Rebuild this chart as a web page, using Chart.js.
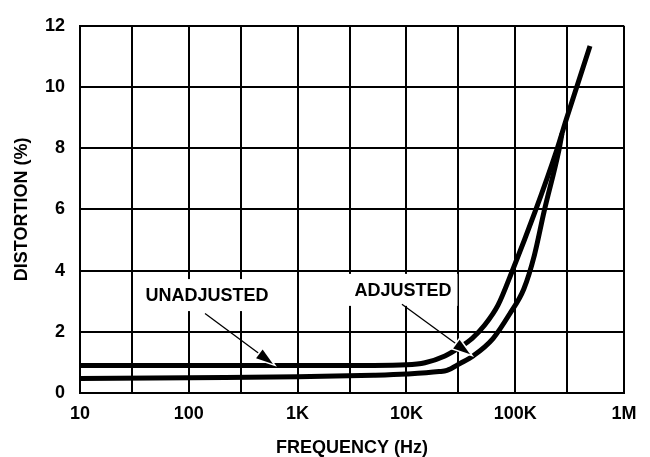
<!DOCTYPE html>
<html>
<head>
<meta charset="utf-8">
<script src="https://cdn.jsdelivr.net/npm/chart.js@4.4.0/dist/chart.umd.min.js"></script>
<style>
  html, body { margin: 0; padding: 0; background: #fff; }
</style>
</head>
<body>
<canvas id="distortion" width="650" height="457"></canvas>
<script>
// frequency (Hz) / distortion (%)
var unadjFreq = [10, 100, 1000, 5000, 10000, 14800, 22600, 29800, 40000, 52700, 69500, 93800, 152000, 242000, 299000, 487000];
var unadjDist = [0.9, 0.9, 0.9, 0.9, 0.92, 0.99, 1.21, 1.46, 1.78, 2.23, 2.87, 3.98, 5.92, 7.96, 9.01, 11.34];

var adjFreq = [10, 100, 1000, 5000, 10000, 20000, 23600, 31000, 41000, 62500, 89500, 120000, 150000, 184000, 253000, 269000];
var adjDist = [0.47, 0.5, 0.53, 0.58, 0.62, 0.7, 0.74, 0.96, 1.21, 1.78, 2.6, 3.4, 4.5, 5.92, 7.96, 8.47];

// grid lines on the frequency axis, labels only on decades
var freqTicks = [10, 30, 100, 300, 1000, 3000, 10000, 30000, 100000, 300000, 1000000];
var freqLabels = ['10', '', '100', '', '1K', '', '10K', '', '100K', '', '1M'];

// callouts, placed in data coordinates
var notes = [
    { text: 'UNADJUSTED', at: [147, 3.2], from: [141, 2.6], to: [594, 0.95] },
    { text: 'ADJUSTED', at: [9300, 3.37], from: [9100, 2.9], to: [38500, 1.27] }
];

var FONT = '"Liberation Sans", Arial, sans-serif';

function toPoints(xs, ys) {
    return xs.map((f, i) => ({ x: f, y: ys[i] }));
}

const notesPlugin = {
    id: 'notes',
    afterDatasetsDraw(chart) {
        const ctx = chart.ctx;
        const xs = chart.scales.x, ys = chart.scales.y;
        ctx.save();
        ctx.font = 'bold 18px ' + FONT;
        ctx.textAlign = 'center';
        ctx.textBaseline = 'middle';
        notes.forEach(n => {
            const tx = xs.getPixelForValue(n.at[0]);
            const ty = ys.getPixelForValue(n.at[1]);
            const w = ctx.measureText(n.text).width;
            ctx.fillStyle = '#fff';
            ctx.fillRect(tx - w / 2 - 6, ty - 16, w + 12, 32);
            ctx.fillStyle = '#000';
            ctx.fillText(n.text, tx, ty + 1);

            const x0 = xs.getPixelForValue(n.from[0]), y0 = ys.getPixelForValue(n.from[1]);
            const x1 = xs.getPixelForValue(n.to[0]), y1 = ys.getPixelForValue(n.to[1]);
            const ang = Math.atan2(y1 - y0, x1 - x0);
            const len = 17, half = 5.5;
            const bx = x1 - len * Math.cos(ang), by = y1 - len * Math.sin(ang);
            ctx.strokeStyle = '#000';
            ctx.lineWidth = 1.3;
            ctx.beginPath();
            ctx.moveTo(x0, y0);
            ctx.lineTo(bx, by);
            ctx.stroke();
            ctx.beginPath();
            ctx.moveTo(x1, y1);
            ctx.lineTo(bx + half * Math.sin(ang), by - half * Math.cos(ang));
            ctx.lineTo(bx - half * Math.sin(ang), by + half * Math.cos(ang));
            ctx.closePath();
            ctx.lineWidth = 3;
            ctx.strokeStyle = '#fff';
            ctx.stroke();
            ctx.fillStyle = '#000';
            ctx.fill();
        });
        ctx.restore();
    }
};

var lineStyle = {
    borderColor: '#000',
    borderWidth: 5,
    pointRadius: 0,
    fill: false,
    cubicInterpolationMode: 'monotone'
};

new Chart(document.getElementById('distortion').getContext('2d'), {
    type: 'line',
    data: {
        datasets: [
            Object.assign({ label: 'UNADJUSTED', data: toPoints(unadjFreq, unadjDist) }, lineStyle),
            Object.assign({ label: 'ADJUSTED', data: toPoints(adjFreq, adjDist) }, lineStyle)
        ]
    },
    options: {
        responsive: false,
        animation: false,
        layout: { padding: { top: 16, right: 26, left: 0, bottom: 0 } },
        plugins: {
            legend: { display: false },
            tooltip: { enabled: false }
        },
        scales: {
            x: {
                type: 'logarithmic',
                min: 10,
                max: 1000000,
                afterBuildTicks: (scale) => {
                    scale.ticks = freqTicks.map(v => ({ value: v }));
                },
                afterFit: (scale) => { scale.height = 64; },
                ticks: {
                    autoSkip: false,
                    maxRotation: 0,
                    padding: 10,
                    color: '#000',
                    font: { family: FONT, size: 18, weight: 'bold' },
                    callback: (v, i) => freqLabels[i]
                },
                grid: { color: '#000', lineWidth: 2, drawTicks: false },
                border: { color: '#000', width: 2 },
                title: {
                    display: true,
                    text: 'FREQUENCY (Hz)',
                    color: '#000',
                    padding: { top: 0, bottom: 0 },
                    font: { family: FONT, size: 18, weight: 'bold', lineHeight: 1 }
                }
            },
            y: {
                min: 0,
                max: 12,
                afterFit: (scale) => { scale.width = 80; },
                ticks: {
                    stepSize: 2,
                    padding: 15,
                    color: '#000',
                    font: { family: FONT, size: 18, weight: 'bold' }
                },
                grid: { color: '#000', lineWidth: 2, drawTicks: false },
                border: { color: '#000', width: 2 },
                title: {
                    display: true,
                    text: 'DISTORTION (%)',
                    color: '#000',
                    padding: { top: 13, bottom: 0 },
                    font: { family: FONT, size: 18, weight: 'bold', lineHeight: 1 }
                }
            }
        }
    },
    plugins: [notesPlugin]
});
</script>
</body>
</html>
